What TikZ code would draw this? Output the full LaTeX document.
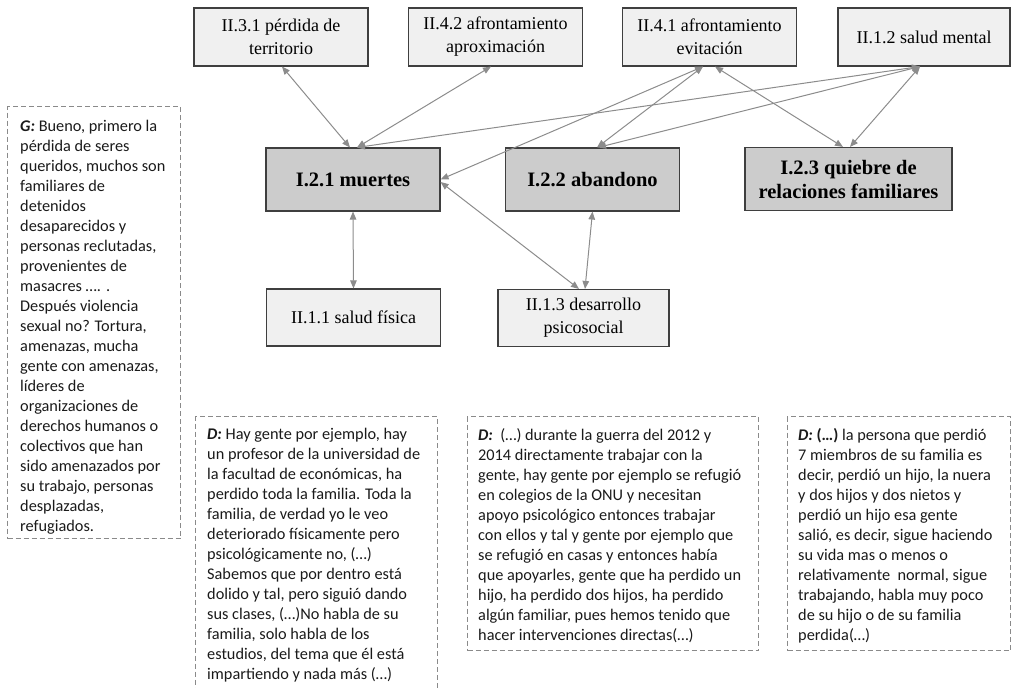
\documentclass[tikz,border=0pt]{standalone}
\usepackage{fontspec}
\setmainfont{Liberation Serif}
\newfontfamily\quotefont{Carlito}
\usetikzlibrary{arrows.meta}

\definecolor{boxline}{HTML}{3F3F3F}
\definecolor{lightfill}{HTML}{F0F0F0}
\definecolor{darkfill}{HTML}{CCCCCC}
\definecolor{linkgray}{HTML}{8C8C8C}
\definecolor{dashgray}{HTML}{8A8A8A}
\definecolor{quotetext}{HTML}{1A1A1A}

\tikzset{
  subcat/.style={draw=boxline, line width=1.1pt, fill=lightfill,
    minimum width=174pt, minimum height=58pt, align=center, inner sep=2pt,
    font=\fontsize{18}{23}\selectfont},
  maincat/.style={draw=boxline, line width=1.1pt, fill=darkfill,
    minimum width=174pt, minimum height=63pt, align=center, inner sep=2pt,
    font=\fontsize{20.5}{24}\selectfont\bfseries},
  quotebox/.style={draw=dashgray, line width=1pt, dash pattern=on 5pt off 3pt,
    inner sep=0pt, anchor=north west},
  quotetxt/.style={anchor=north west, inner sep=0pt, align=left,
    font=\quotefont\fontsize{16.3}{20}\selectfont, text=quotetext},
  link/.style={draw=linkgray, line width=1pt,
    {Triangle[length=8pt,width=6.5pt]}-{Triangle[length=8pt,width=6.5pt]}},
}

\begin{document}
\begin{tikzpicture}[x=1pt,y=-1pt]
\useasboundingbox (0,0) rectangle (1013,688);

% second-level categories, top row
\node[subcat] (t1) at (281,37) {II.3.1 pérdida de\\territorio};
\node[subcat] (t2) at (495.5,37) {II.4.2 afrontamiento\\aproximación};
\node[subcat] (t3) at (709.5,37) {II.4.1 afrontamiento\\evitación};
\node[subcat, minimum width=172pt] (t4) at (924,37) {II.1.2 salud mental};

% first-level categories
\node[maincat] (m1) at (353,179.5) {I.2.1 muertes};
\node[maincat] (m2) at (592.5,179.5) {I.2.2 abandono};
\node[maincat, minimum width=207pt] (m3) at (848.5,179) {I.2.3 quiebre de\\relaciones familiares};

% second-level categories, bottom row
\node[subcat, minimum height=57pt] (b1) at (353.5,317.5) {II.1.1 salud física};
\node[subcat, minimum width=171pt, minimum height=57pt] (b2) at (583.5,318) {II.1.3 desarrollo\\psicosocial};

% links
\draw[link] ([xshift=1pt]t1.south) -- ([xshift=-3pt]m1.north);
\draw[link] ([xshift=-4.5pt]t2.south) -- ([xshift=4pt]m1.north);
\draw[link] ([xshift=-6.5pt]t3.south) -- (m1.east);
\draw[link] ([xshift=-6.5pt]t3.south) -- ([xshift=4.5pt]m2.north);
\draw[link] ([xshift=5.5pt]t3.south) -- ([xshift=-5.5pt]m3.north);
\draw[link] ([xshift=-4pt]t4.south) -- ([xshift=4pt]m1.north);
\draw[link] ([xshift=-4pt]t4.south) -- ([xshift=5.5pt]m2.north);
\draw[link] ([xshift=-4pt]t4.south) -- ([xshift=1.5pt]m3.north);
\draw[link] (m1.south) -- (b1.north);
\draw[link] ([yshift=-2.5pt]m1.east) -- ([xshift=-4.5pt]b2.north);
\draw[link] (m2.south) -- ([xshift=1.5pt]b2.north);

% interview excerpts
\node[quotebox, minimum width=173pt, minimum height=432pt] (qg) at (7,106) {};
\node[quotetxt] (qgt) at ([xshift=13pt,yshift=-14pt]qg.north west)
  {\textbf{\textit{G:}} Bueno, primero la\\
   pérdida de seres\\
   queridos, muchos son\\
   familiares de\\
   detenidos\\
   desaparecidos y\\
   personas reclutadas,\\
   provenientes de\\
   masacres …. .\\
   Después violencia\\
   sexual no? Tortura,\\
   amenazas, mucha\\
   gente con amenazas,\\
   líderes de\\
   organizaciones de\\
   derechos humanos o\\
   colectivos que han\\
   sido amenazados por\\
   su trabajo, personas\\
   desplazadas,\\
   refugiados.};

\node[quotebox, minimum width=242pt, minimum height=285pt] (qd1) at (195,416) {};
\node[quotetxt] (qd1t) at ([xshift=12pt,yshift=-12pt]qd1.north west)
  {\textbf{\textit{D:}} Hay gente por ejemplo, hay\\
   un profesor de la universidad de\\
   la facultad de económicas, ha\\
   perdido toda la familia. Toda la\\
   familia, de verdad yo le veo\\
   deteriorado físicamente pero\\
   psicológicamente no, (…)\\
   Sabemos que por dentro está\\
   dolido y tal, pero siguió dando\\
   sus clases, (…)No habla de su\\
   familia, solo habla de los\\
   estudios, del tema que él está\\
   impartiendo y nada más (…)};

\node[quotebox, minimum width=291pt, minimum height=234pt] (qd2) at (467,416) {};
\node[quotetxt] (qd2t) at ([xshift=11pt,yshift=-12pt]qd2.north west)
  {\textbf{\textit{D:}}\ \ (…) durante la guerra del 2012 y\\
   2014 directamente trabajar con la\\
   gente, hay gente por ejemplo se refugió\\
   en colegios de la ONU y necesitan\\
   apoyo psicológico entonces trabajar\\
   con ellos y tal y gente por ejemplo que\\
   se refugió en casas y entonces había\\
   que apoyarles, gente que ha perdido un\\
   hijo, ha perdido dos hijos, ha perdido\\
   algún familiar, pues hemos tenido que\\
   hacer intervenciones directas(…)};

\node[quotebox, minimum width=223pt, minimum height=234pt] (qd3) at (787,416) {};
\node[quotetxt] (qd3t) at ([xshift=11pt,yshift=-12pt]qd3.north west)
  {\textbf{\textit{D:} (…)} la persona que perdió\\
   7 miembros de su familia es\\
   decir, perdió un hijo, la nuera\\
   y dos hijos y dos nietos y\\
   perdió un hijo esa gente\\
   salió, es decir, sigue haciendo\\
   su vida mas o menos o\\
   relativamente\ \ normal, sigue\\
   trabajando, habla muy poco\\
   de su hijo o de su familia\\
   perdida(…)};
\end{tikzpicture}
\end{document}
